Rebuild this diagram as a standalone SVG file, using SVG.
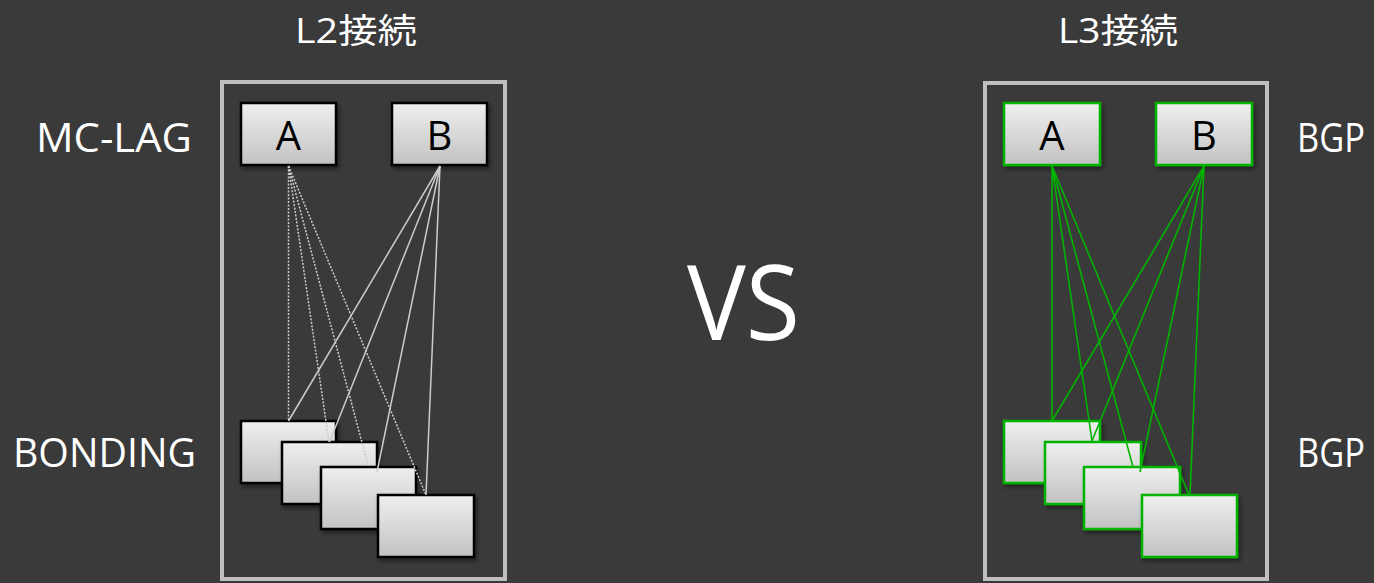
<svg xmlns="http://www.w3.org/2000/svg" width="1374" height="583" viewBox="0 0 1374 583">
<style>
.lbl{font-family:"Open Sans","Noto Sans CJK JP","Noto Sans",sans-serif;fill:#ffffff;font-size:40px}
.ttl{font-family:"Open Sans","Noto Sans CJK JP","Noto Sans",sans-serif;fill:#ffffff;font-size:34px}
.box{fill:url(#g);stroke:#000;stroke-width:2.5;filter:url(#sh)}
.gbox{fill:url(#g);stroke:#00b400;stroke-width:2.5;filter:url(#sh)}
.bt{font-family:"Open Sans","Noto Sans",sans-serif;font-size:40px;fill:#000;text-anchor:middle}
.cont{fill:none;stroke:#bfbfbf;stroke-width:4}
.dl{stroke:#cccccc;stroke-width:1.5;stroke-dasharray:2 1.5;fill:none}
.sl{stroke:#cccccc;stroke-width:1.5;fill:none}
.gl{stroke:#00b400;stroke-width:1.6;fill:none}
</style>
<defs>
<linearGradient id="g" x1="0" y1="0" x2="0" y2="1">
<stop offset="0" stop-color="#efefef"/>
<stop offset="1" stop-color="#c2c2c2"/>
</linearGradient>
<filter id="sh" x="-20%" y="-20%" width="150%" height="150%">
<feDropShadow dx="2" dy="3" stdDeviation="2" flood-color="#000" flood-opacity="0.45"/>
</filter>
</defs>
<rect width="1374" height="583" fill="#3a3a3a"/>

<g id="titles">
<text class="ttl" x="295" y="43" textLength="122" lengthAdjust="spacingAndGlyphs">L2接続</text>
<text class="ttl" x="1058" y="43" textLength="120" lengthAdjust="spacingAndGlyphs">L3接続</text>
<text class="lbl" x="36" y="152" textLength="156" lengthAdjust="spacingAndGlyphs">MC-LAG</text>
<text class="lbl" x="13" y="467" textLength="183" lengthAdjust="spacingAndGlyphs">BONDING</text>
<text class="lbl" x="1297" y="152" textLength="68" lengthAdjust="spacingAndGlyphs">BGP</text>
<text class="lbl" x="1297" y="467" textLength="68" lengthAdjust="spacingAndGlyphs">BGP</text>
<text x="687" y="340" font-family="'Open Sans','Noto Sans',sans-serif" font-size="105" fill="#ffffff" textLength="113" lengthAdjust="spacingAndGlyphs">VS</text>
</g>

<g id="l2-container"><rect class="cont" x="222" y="82" width="283" height="497"/></g>
<g id="l3-container"><rect class="cont" x="985" y="83" width="282" height="496"/></g>

<g id="l2-A"><rect class="box" x="241" y="103" width="95" height="62"/><text class="bt" x="288.5" y="150">A</text></g>
<g id="l2-B"><rect class="box" x="392" y="103" width="95" height="62"/><text class="bt" x="439.5" y="150">B</text></g>
<g id="l2-s1"><rect class="box" x="241" y="421" width="95" height="62"/></g>
<g id="l2-s2"><rect class="box" x="282" y="442" width="95" height="62"/></g>
<g id="l2-s3"><rect class="box" x="321" y="467" width="95" height="62"/></g>
<g id="l2-s4"><rect class="box" x="378" y="495" width="96" height="62"/></g>

<g id="l3-A"><rect class="gbox" x="1004" y="103" width="96" height="62"/><text class="bt" x="1052" y="150">A</text></g>
<g id="l3-B"><rect class="gbox" x="1156" y="103" width="96" height="62"/><text class="bt" x="1204" y="150">B</text></g>
<g id="l3-s1"><rect class="gbox" x="1004" y="421" width="96" height="62"/></g>
<g id="l3-s2"><rect class="gbox" x="1045" y="442" width="96" height="62"/></g>
<g id="l3-s3"><rect class="gbox" x="1084" y="467" width="96" height="62"/></g>
<g id="l3-s4"><rect class="gbox" x="1142" y="495" width="95" height="62"/></g>

<g id="connectors">
<line class="dl" x1="288.5" y1="166" x2="288.5" y2="421"/>
<line class="dl" x1="288.5" y1="166" x2="329" y2="442"/>
<line class="dl" x1="288.5" y1="166" x2="368.5" y2="467"/>
<line class="dl" x1="288.5" y1="166" x2="426" y2="495"/>
<line class="sl" x1="440" y1="166" x2="288.5" y2="421"/>
<line class="sl" x1="440" y1="166" x2="329.5" y2="442"/>
<line class="sl" x1="440" y1="166" x2="377" y2="472"/>
<line class="sl" x1="440" y1="166" x2="426" y2="495"/>

<line class="gl" x1="1052" y1="166" x2="1052" y2="421"/>
<line class="gl" x1="1052" y1="166" x2="1092" y2="441"/>
<line class="gl" x1="1052" y1="166" x2="1133" y2="467"/>
<line class="gl" x1="1052" y1="166" x2="1189" y2="495"/>
<line class="gl" x1="1204" y1="166" x2="1052" y2="421"/>
<line class="gl" x1="1204" y1="166" x2="1092" y2="441"/>
<line class="gl" x1="1204" y1="166" x2="1140" y2="472"/>
<line class="gl" x1="1204" y1="166" x2="1190" y2="495"/>
</g>
</svg>
